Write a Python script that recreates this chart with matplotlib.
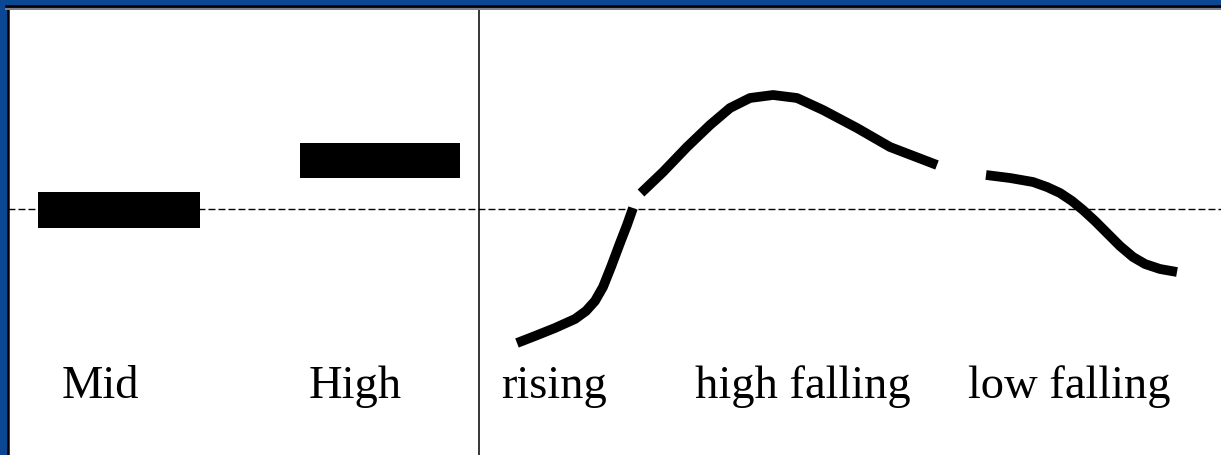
import matplotlib.pyplot as plt
from matplotlib.lines import Line2D

# level tones (flat bars): label, x start, x end, pitch centre, bar height
level_labels = ['Mid', 'High']
level_x0 = [38, 300]
level_x1 = [200, 460]
level_pitch = [-1, 48.5]
level_h = [36, 35]

# contour tones, pitch relative to the mid line
rising_x = [517, 535, 555, 575, 586, 595, 603, 611, 620, 627, 633]
rising_y = [-134, -127, -119, -110, -102, -92, -78, -58, -34, -16, 1]

hfall_x = [641, 663, 687, 710, 730, 750, 773, 797, 823, 857, 890, 937]
hfall_y = [16, 37, 62, 84, 101, 111, 114, 111, 99, 81, 62, 44]

lfall_x = [986, 1010, 1033, 1047, 1060, 1072, 1083, 1095, 1107, 1120, 1133, 1145, 1160, 1177]
lfall_y = [34, 31, 27, 22, 16, 8, -1, -12, -24, -37, -48, -55, -60, -63]

contour_labels = ['rising', 'high falling', 'low falling']
label_x = [100, 355, 554, 803, 1069]

blue = '#0b4792'

fig = plt.figure(figsize=(12.21, 4.55), dpi=100)
fig.patch.set_facecolor(blue)

ax = fig.add_axes([8 / 1221, 0, 1213 / 1221, 445 / 455])
ax.set_facecolor('white')
ax.set_xlim(8, 1221)
ax.set_ylim(209 - 455, 209 - 10)
ax.set_xticks([])
ax.set_yticks([])
for s in ['right', 'bottom', 'top']:
    ax.spines[s].set_visible(False)
ax.spines['left'].set_color('black')
ax.spines['left'].set_linewidth(1.8)

# frame lines on top of the white box
fig.add_artist(Line2D([6 / 1221, 1], [1 - 6 / 455, 1 - 6 / 455], color='black', lw=1.8))
fig.add_artist(Line2D([6 / 1221, 1], [1 - 8.8 / 455, 1 - 8.8 / 455], color='#8a8a8a', lw=1.3))

# mid line and divider
ax.axhline(0, color='black', lw=1.0, ls=(0, (5, 2.2)))
ax.axvline(479, color='black', lw=1.1)

for x0, x1, p, h in zip(level_x0, level_x1, level_pitch, level_h):
    ax.fill_between([x0, x1], p - h / 2, p + h / 2, color='black', lw=0)

for xs, ys in [(rising_x, rising_y), (hfall_x, hfall_y), (lfall_x, lfall_y)]:
    ax.plot(xs, ys, color='black', lw=7, solid_capstyle='butt', solid_joinstyle='round')

for lab, x in zip(level_labels + contour_labels, label_x):
    ax.text(x, 209 - 398, lab, ha='center', va='baseline', fontsize=33.5,
            family='Liberation Serif', color='black')

fig.savefig('out.png', dpi=100, facecolor=blue)
